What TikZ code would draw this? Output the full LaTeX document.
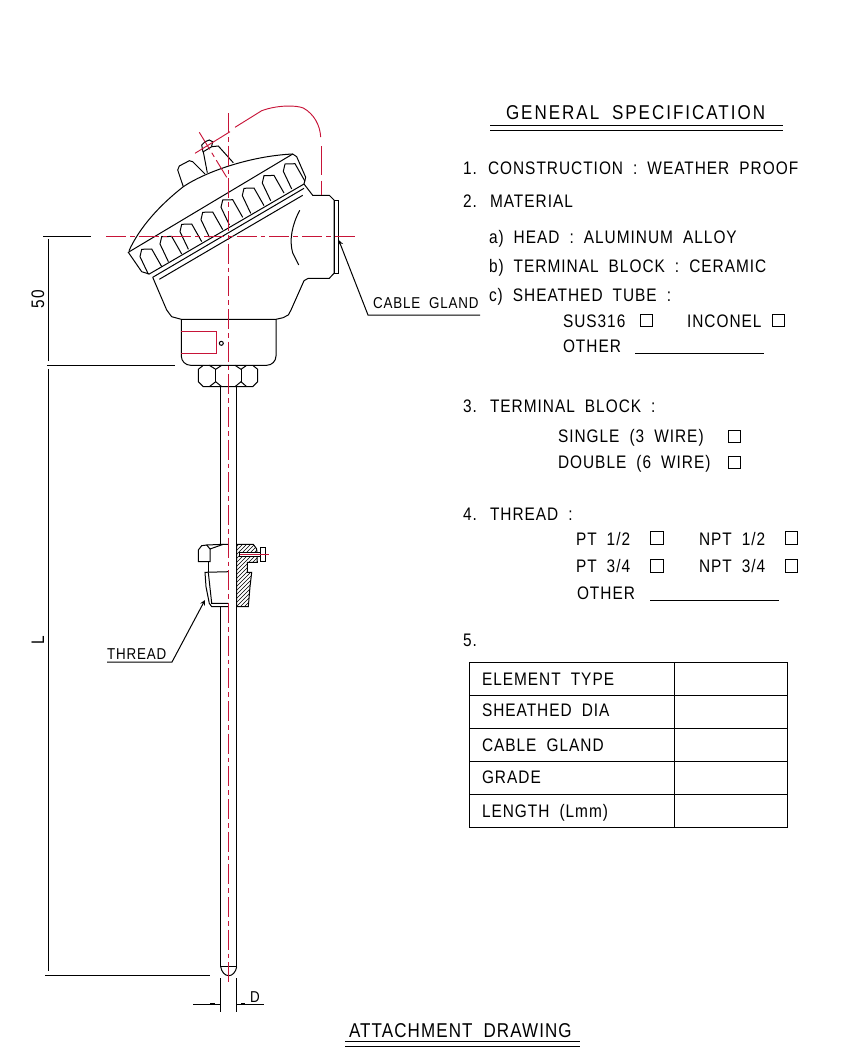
\documentclass[tikz,border=0pt]{standalone}
\usepackage{fontspec}
\setmainfont{Liberation Sans}[LetterSpace=5.5,WordSpace=1.9,FakeStretch=0.85]
\usetikzlibrary{patterns,positioning}
\definecolor{cenred}{rgb}{0.78,0.08,0.22}

\begin{document}
\begin{tikzpicture}
[x=0.75pt, y=-0.75pt, line width=0.75pt, >=stealth, font=\fontsize{13.6pt}{15pt}\selectfont,
% STYLES
every node/.style={inner sep=0pt, outer sep=0pt},
spec/.style={anchor=base west},
bigtitle/.style={anchor=base west, font=\fontsize{15pt}{17pt}\selectfont},
dimlabel/.style={anchor=base west, font=\fontsize{11.8pt}{13pt}\selectfont},
chkbox/.style={draw, rectangle, minimum size=9.6pt, anchor=north west},
cenline/.style={cenred, line width=0.7pt, dash pattern=on 15pt off 3pt on 3.5pt off 3pt},
wire/.style={cenred, line width=0.7pt},
dimtick/.style={line width=1.4pt}]

\useasboundingbox (0,0) rectangle (856,1051);

% Titles
\node [bigtitle] (title) at (506,119.5) {\addfontfeature{LetterSpace=10}GENERAL SPECIFICATION};
\draw (490,125.7) -- (783,125.7) (490,130) -- (783,130);
\node [bigtitle] (attach) at (349,1037) {ATTACHMENT DRAWING};
\draw (345,1041) -- (580,1041) (345,1046) -- (580,1046);

% Specification list
\node [spec] (n1) at (463,174) {1.};
\node [spec] (construction) at (488,174) {CONSTRUCTION : WEATHER PROOF};
\node [spec] (n2) at (463,207) {2.};
\node [spec] (material) at (490,207) {MATERIAL};
\node [spec] (head) at (489,243) {a) HEAD : ALUMINUM ALLOY};
\node [spec] (block) at (489,272) {b) TERMINAL BLOCK : CERAMIC};
\node [spec] (tube) at (489,301) {c) SHEATHED TUBE :};
\node [spec] (sus) at (563,327) {SUS316};
\node [chkbox] (sus-box) at (640,314) {};
\node [spec] (inconel) at (687,327) {INCONEL};
\node [chkbox] (inconel-box) at (772,314) {};
\node [spec] (other1) at (563,352) {OTHER};
\draw (635,353) -- (764,353);

\node [spec] (n3) at (463,412) {3.};
\node [spec] (term) at (490,412) {TERMINAL BLOCK :};
\node [spec] (single) at (558,442) {SINGLE (3 WIRE)};
\node [chkbox] (single-box) at (728,430) {};
\node [spec] (double) at (558,468) {DOUBLE (6 WIRE)};
\node [chkbox] (double-box) at (728,456) {};

\node [spec] (n4) at (463,520) {4.};
\node [spec] (thread) at (490,520) {THREAD :};
\node [spec] (pt12) at (576,545) {PT 1/2};
\node [chkbox] (pt12-box) at (650.7,531.7) {};
\node [spec] (npt12) at (699,545) {NPT 1/2};
\node [chkbox] (npt12-box) at (785,531.7) {};
\node [spec] (pt34) at (576,572) {PT 3/4};
\node [chkbox] (pt34-box) at (650.7,559.5) {};
\node [spec] (npt34) at (699,572) {NPT 3/4};
\node [chkbox] (npt34-box) at (785,559.5) {};
\node [spec] (other2) at (577,599) {OTHER};
\draw (650,600) -- (779,600);

\node [spec] (n5) at (463,646) {5.};

% Table
\draw (469,662) rectangle (787,827);
\draw (674,662) -- (674,827);
\foreach \rowy in {695,728,761,794}
  \draw (469,\rowy) -- (787,\rowy);
\node [spec] (element) at (482,685) {ELEMENT TYPE};
\node [spec] (dia) at (482,716) {SHEATHED DIA};
\node [spec] (gland) at (482,751) {CABLE GLAND};
\node [spec] (grade) at (482,783) {GRADE};
\node [spec] (length) at (482,817) {LENGTH (Lmm)};

% Head lid
\draw (129,250.7) .. controls (140,226.7) and (160,205) .. (183.3,186.7)
  .. controls (205,172) and (250,156) .. (292.7,154);
\draw (128.3,252.3) -- (292.7,154) -- (296.7,156.7) -- (305.7,177.3) -- (304,184)
  -- (149.3,274) -- (141.7,271.7) -- cycle;
\draw (152.7,277.3) -- (304,188.3);
\draw (159.3,279.3) -- (302.7,195.3);

% Fins
\foreach \finx/\finy in {141.7/249.3,161.7/236.7,181.7/224.3,202.7/212.3,222.7/200,244/188.3,264/175.7,285/164}
  \draw [shift={(\finx,\finy)}] (6.7,25) -- (-1.7,7.3) -- (0,0) -- (10,-0.3) -- (20,17.3);

% Knobs
\draw (183.3,186.7) -- (177.7,170) -- (179.3,166) -- (189.3,160.7) -- (192.7,161.7) -- (205,174);
\draw (207.3,172.7) -- (203.3,151.7) -- (211.7,146.7) -- (218.3,146) -- (233.3,162.7);
\draw (203,152) -- (201.7,145) -- (205,141.7) -- (209.3,140) -- (212.7,141.7) -- (211.7,146);

% Body
\draw (304,184) -- (312.7,195.3) -- (329.3,195.3) -- (334,200) -- (334,273.3) -- (329.3,278.3)
  -- (308.3,278.3) -- (304,280.7) -- (291,310) -- (288.3,315) -- (283,317.7) -- (276,319.3)
  -- (181.3,319.3) -- (171.7,316.7) -- (166.7,310) -- (152.7,277.3);
\draw (334,200) rectangle (338.7,273.3);
\draw (299.7,210.3) .. controls (292,225) and (289,240) .. (292.7,253) -- (298.7,265);
\draw [rounded corners=7pt] (181.3,319.3) -- (181.3,365.3) -- (276,365.3) -- (276,319.3);
\draw [wire] (181.3,331.3) -- (216.7,331.3) -- (216.7,353.3) -- (181.3,353.3);
\draw (221.3,343.3) circle (2);

% Hex nut
\draw (203.3,365.3) -- (198.3,369.3) -- (198.3,381.7) -- (203.3,386.7) -- (252.7,386.7)
  -- (257.7,381.7) -- (257.7,369.3) -- (252.7,365.3);
\draw (209.3,365.3) -- (215.7,369.3) -- (221.7,365.3);
\draw (209.3,386.7) -- (215.7,381.7) -- (221.7,386.7);
\draw (215.7,369.3) -- (215.7,381.7);
\draw (235,365.3) -- (241,369.3) -- (246.7,365.3);
\draw (235,386.7) -- (241,381.7) -- (246.7,386.7);
\draw (241,369.3) -- (241,381.7);

% Sheath tube
\draw (220.7,386.7) -- (220.7,544.5);
\draw (220.7,606.7) -- (220.7,966.7);
\draw (236.7,386.7) -- (236.7,966.7);
\draw (220.7,966.7) -- (236.7,966.7);
\draw (220.7,966.7) .. controls (221.5,972) and (225,975.7) .. (228.7,975.7)
  .. controls (232.4,975.7) and (235.9,972) .. (236.7,966.7);

% Thread fitting
\draw (228.3,544.3) -- (223.3,544.3) -- (210,549) -- (210,561.7) -- (198.3,561.7) -- (198.3,550)
  -- (201.7,545.7) -- (206.7,545) -- (210,549);
\draw (206.7,545) -- (223.3,544.3);
\draw (208.3,561.7) -- (208.3,571.7);
\draw (228.3,571.7) -- (205,572.3) -- (206,586.7) -- (209.3,603.3) -- (211.7,606.7) -- (228.3,606.7);
\draw (208.3,572.3) -- (211.7,603.3) -- (228.3,603.3);
\draw [pattern=north east lines, pattern color=black] (236.7,544.3) -- (253.3,544.3) -- (256.7,549)
  -- (257.3,562.3) -- (247.3,562.3) -- (247.3,572.3) -- (251.7,572.3) -- (250,586.7) -- (248.3,606.7)
  -- (236.7,606.7) -- cycle;
\draw [fill=white] (239.3,552.3) rectangle (260.7,556.7);
\draw [fill=white] (260.7,547.7) rectangle (265.7,561);
\draw [wire] (240,554.3) -- (269,554.3);

% Centre lines and wire
\draw [cenline] (228.3,113) -- (228.3,985);
\draw [cenline] (106,236) -- (358,236);
\draw [cenline] (199.3,132.3) -- (226.7,177.3);
\draw [wire] (195,153.3) -- (230,131.7);
\draw [wire] (235,127.3) -- (261.7,110.7) .. controls (277,105) and (296,105) .. (303.3,108)
  .. controls (314,114) and (320,125) .. (320.7,137);
\draw [wire, dash pattern=on 22pt off 4pt] (321.7,146) -- (321.7,195.3);

% Dimensions
\draw (43,236) -- (91,236);
\draw (47,365.3) -- (175,365.3);
\draw (45,975) -- (210,975);
\draw (48.3,239) -- (48.3,361);
\draw (48.3,369) -- (48.3,971);
\node [spec, rotate=90] (dim50) at (44,308) {50};
\node [spec, rotate=90] (diml) at (44,644) {L};
\draw (220.7,978) -- (220.7,1011.7);
\draw (236.7,978) -- (236.7,1011.7);
\draw (193.3,1004) -- (220.7,1004);
\draw (236.7,1004) -- (264,1004);
\draw [dimtick] (210,1003.5) -- (215,1003.5);
\draw [dimtick] (241,1003.5) -- (245,1003.5);
\node [dimlabel] (dimd) at (250,1002) {D};

% Leaders
\coordinate (gland-tip) at (338.7,240);
\coordinate (gland-knee) at (368,315);
\coordinate (gland-end) at (480,315);
\node [dimlabel] (gland-text) at (373,308) {CABLE GLAND};
\draw [->] (gland-end) -- (gland-knee) -- (gland-tip);
\coordinate (thread-tip) at (205,600);
\coordinate (thread-knee) at (172,662);
\coordinate (thread-end) at (107,662);
\node [dimlabel] (thread-text) at (107,659) {THREAD};
\draw [->] (thread-end) -- (thread-knee) -- (thread-tip);

\end{tikzpicture}
\end{document}
